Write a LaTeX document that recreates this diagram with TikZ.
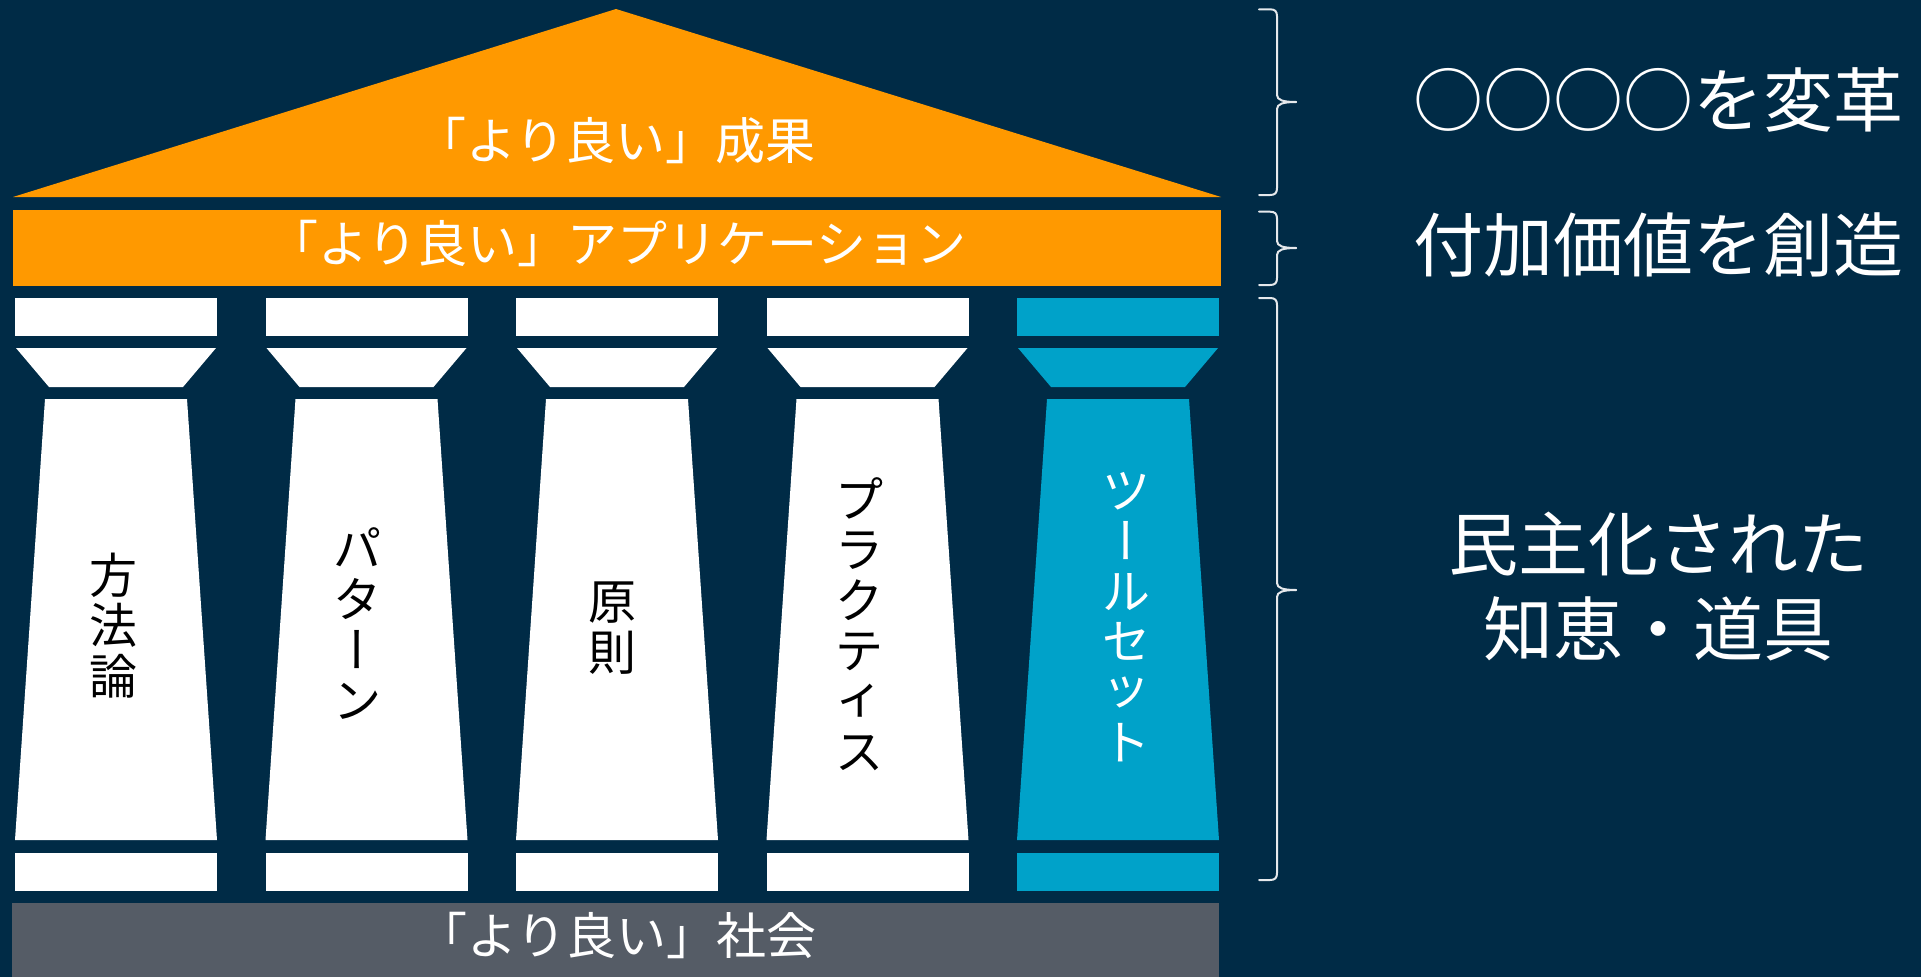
\documentclass[tikz,border=0pt]{standalone}
\usepackage{fontspec}
\newfontfamily\jp{Noto Sans CJK JP}
\definecolor{navy}{HTML}{002B46}
\definecolor{orng}{HTML}{FF9900}
\definecolor{tealc}{HTML}{00A2C9}
\definecolor{slate}{HTML}{555C66}
\definecolor{bracec}{HTML}{E6E9EC}
\newcommand\sidebrace[3]{%
  \draw[bracestyle] (1259,#1) -- (1270,#1) .. controls (1275,#1) and (1277,#1+2) .. (1277,#1+7)
    -- (1277,#2-7) .. controls (1277,#2-2) and (1283,#2) .. (1296,#2);
  \draw[bracestyle] (1296,#2) .. controls (1283,#2) and (1277,#2+2) .. (1277,#2+7)
    -- (1277,#3-7) .. controls (1277,#3-2) and (1275,#3) .. (1270,#3) -- (1259,#3);
}
\begin{document}
\begin{tikzpicture}[x=1pt,y=-1pt,
  jtext/.style={font=\jp\fontsize{50}{60}\selectfont, text=white, inner sep=0pt, text height=44pt, text depth=6pt},
  vchar/.style={font=\jp\fontsize{48}{58}\selectfont, inner sep=0pt, text height=42.2pt, text depth=5.8pt},
  side/.style={font=\jp\fontsize{70}{84}\selectfont, text=white, inner sep=0pt, text height=61.6pt, text depth=8.4pt},
  bracestyle/.style={draw=bracec, line width=2pt, line cap=round, line join=round}]
\useasboundingbox (0,0) rectangle (1921,977);
\fill[navy] (0,0) rectangle (1921,977);
% roof and architrave
\fill[orng] (13,197) -- (616,9) -- (1221,197) -- cycle;
\fill[orng] (13,210) rectangle (1221,286);
% floor
\fill[slate] (12,903) rectangle (1219,977);
% pillars
\foreach \px/\col in {15/white,265.5/white,516/white,766.5/white,1017/tealc}{
  \fill[\col] (\px,298) rectangle ++(202,38);
  \fill[\col] (\px+1,348) -- (\px+201,348) -- (\px+168,387) -- (\px+34,387) -- cycle;
  \fill[\col] (\px+30,399) -- (\px+172,399) -- (\px+202,840) -- (\px,840) -- cycle;
  \fill[\col] (\px,853) rectangle ++(202,38);
}
% horizontal labels
\node[jtext] (roof) at (616,140) {「より良い」成果};
\node[jtext] (app) at (617,243) {「より良い」アプリケーション};
\node[jtext] (soc) at (617,935.5) {「より良い」社会};
% pillar 1
\node[vchar] (p1a) at (113.5,574.8) {方};
\node[vchar] (p1b) at (113.5,625.3) {法};
\node[vchar] (p1c) at (113.5,675.8) {論};
% pillar 2
\node[vchar] (p2a) at (357.5,548.75) {パ};
\node[vchar] (p2b) at (357.5,599.25) {タ};
\node[vchar,rotate=90] (p2c) at (357.5,649.75) {ー};
\node[vchar] (p2d) at (357.5,700.25) {ン};
% pillar 3
\node[vchar] (p3a) at (612.5,601.5) {原};
\node[vchar] (p3b) at (612.5,652) {則};
% pillar 4
\node[vchar] (p4a) at (859.5,499) {プ};
\node[vchar] (p4b) at (859.5,549.5) {ラ};
\node[vchar] (p4c) at (859.5,600) {ク};
\node[vchar] (p4d) at (859.5,650.5) {テ};
\node[vchar,yshift=6pt] (p4e) at (859.5,701) {ィ};
\node[vchar] (p4f) at (859.5,751.5) {ス};
% pillar 5
\node[vchar,text=white] (p5a) at (1126,490) {ツ};
\node[vchar,text=white,rotate=90] (p5b) at (1126,540.5) {ー};
\node[vchar,text=white] (p5c) at (1126,591) {ル};
\node[vchar,text=white] (p5d) at (1126,641.5) {セ};
\node[vchar,text=white,yshift=6pt] (p5e) at (1126,692) {ッ};
\node[vchar,text=white] (p5f) at (1126,742.5) {ト};
% braces
\sidebrace{9.3}{102}{195}
\sidebrace{211.7}{248}{285}
\sidebrace{298}{590}{880}
% side labels
\node[side] (s1) at (1658,100) {○○○○を変革};
\node[side] (s2) at (1658,245) {付加価値を創造};
\node[side] (s3) at (1658,544) {民主化された};
\node[side] (s4) at (1658,628.5) {知恵・道具};
\end{tikzpicture}
\end{document}
